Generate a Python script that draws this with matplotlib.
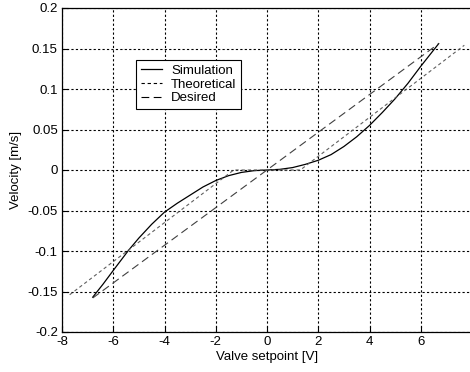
import matplotlib
matplotlib.use('Agg')
import matplotlib.pyplot as plt

# values
sim_x = [-6.8, -6.4, -6.0, -5.4, -5.0, -4.5, -4.0, -3.5, -3.0, -2.5, -2.0, -1.5, -1.0, -0.5, 0.0,
         0.5, 1.0, 1.5, 2.0, 2.5, 3.0, 3.5, 4.0, 4.5, 5.0, 5.5, 6.0, 6.7]
sim_y = [-0.157, -0.141, -0.124, -0.099, -0.084, -0.067, -0.052, -0.041, -0.031, -0.021, -0.013,
         -0.007, -0.003, -0.0008, 0.0,
         0.0008, 0.003, 0.007, 0.012, 0.019, 0.029, 0.041, 0.055, 0.071, 0.088, 0.107, 0.128, 0.156]

theo_x = [-7.7, -1.3, 1.3, 7.7]
theo_y = [-0.154, 0.0, 0.0, 0.154]

des_x = [-6.8, 0.0, 6.7]
des_y = [-0.158, 0.0, 0.156]

xticks = [-8, -6, -4, -2, 0, 2, 4, 6]
yticks = [-0.2, -0.15, -0.1, -0.05, 0, 0.05, 0.1, 0.15, 0.2]
ytick_labels = ['-0.2', '-0.15', '-0.1', '-0.05', '0', '0.05', '0.1', '0.15', '0.2']

plt.rcParams['font.family'] = ['Liberation Sans', 'DejaVu Sans']
plt.rcParams['font.size'] = 9

fig = plt.figure(figsize=(4.7, 3.72), dpi=100)
ax = fig.add_axes([62 / 470, 40 / 372, 410 / 470, 324 / 372])

ax.plot(sim_x, sim_y, color='black', lw=0.9, label='Simulation')
ax.plot(theo_x, theo_y, color='#606060', lw=0.8, dashes=(3, 2.5), label='Theoretical')
ax.plot(des_x, des_y, color='#404040', lw=0.8, dashes=(7, 4), label='Desired')

ax.set_xlim(-8, 8)
ax.set_ylim(-0.2, 0.2)
ax.set_xticks(xticks)
ax.set_xticklabels([str(t) for t in xticks])
ax.set_yticks(yticks)
ax.set_yticklabels(ytick_labels)
ax.tick_params(direction='in', length=4, width=0.8, colors='black', labelsize=9.5, pad=3)
ax.grid(True, color='black', linestyle=(0, (2, 2)), lw=0.8)
for s in ax.spines.values():
    s.set_linewidth(0.9)

ax.set_xlabel('Valve setpoint [V]', fontsize=9.5, labelpad=2)
ax.set_ylabel('Velocity [m/s]', fontsize=9.5, labelpad=4)

leg = ax.legend(loc='upper left', bbox_to_anchor=(136 / 470, 1 - 60 / 372),
                bbox_transform=fig.transFigure, frameon=True, fancybox=False,
                edgecolor='black', framealpha=1, fontsize=9.5, handlelength=1.6,
                handletextpad=0.7, labelspacing=0.12, borderpad=0.35, borderaxespad=0)
leg.get_frame().set_linewidth(0.8)
for h in leg.get_lines():
    h.set_color('black')

fig.savefig('out.png', dpi=100)
